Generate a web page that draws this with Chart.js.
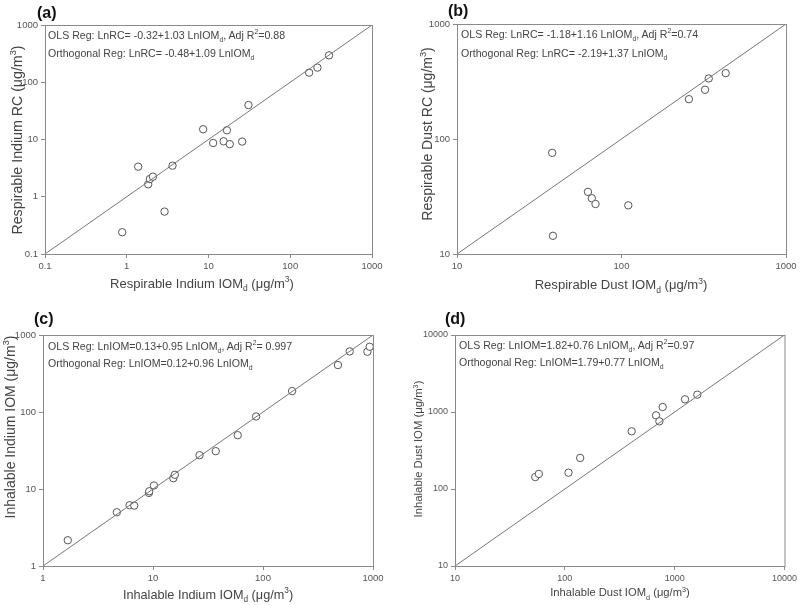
<!DOCTYPE html>
<html>
<head>
<meta charset="utf-8">
<script src="https://cdn.jsdelivr.net/npm/chart.js@4"></script>
<style>
  body { margin: 0; background: #fff; font-family: "Liberation Sans", Arial, sans-serif; }
  #wrap { position: relative; width: 800px; height: 605px; overflow: hidden; }
  canvas { position: absolute; }
  .lbl { position: absolute; color: #444; white-space: nowrap; line-height: 1; }
  .panel { font-weight: bold; font-size: 16px; color: #111; }
  .eq { font-size: 10.6px; color: #444; }
  .ytitle { transform: translate(-50%, -50%) rotate(-90deg); }
  .xtitle { transform: translate(-50%, -50%); }
  sub, sup { font-size: 65%; line-height: 0; }
</style>
</head>
<body>
<div id="wrap">
  <canvas id="ca" style="left:0;top:0" width="400" height="300"></canvas>
  <canvas id="cb" style="left:400px;top:0" width="400" height="300"></canvas>
  <canvas id="cc" style="left:0;top:300px" width="400" height="305"></canvas>
  <canvas id="cd" style="left:400px;top:300px" width="400" height="305"></canvas>

  <div class="lbl panel" style="left:37px;top:5px">(a)</div>
  <div class="lbl panel" style="left:448px;top:3px">(b)</div>
  <div class="lbl panel" style="left:34px;top:311px">(c)</div>
  <div class="lbl panel" style="left:445px;top:311px">(d)</div>

  <div class="lbl eq" style="left:48px;top:30px">OLS Reg: LnRC= -0.32+1.03 LnIOM<sub>d</sub>, Adj R<sup>2</sup>=0.88</div>
  <div class="lbl eq" style="left:48px;top:48px">Orthogonal Reg: LnRC= -0.48+1.09 LnIOM<sub>d</sub></div>
  <div class="lbl eq" style="left:461px;top:29px">OLS Reg: LnRC= -1.18+1.16 LnIOM<sub>d</sub>, Adj R<sup>2</sup>=0.74</div>
  <div class="lbl eq" style="left:461px;top:48px">Orthogonal Reg: LnRC= -2.19+1.37 LnIOM<sub>d</sub></div>
  <div class="lbl eq" style="left:48px;top:341px">OLS Reg: LnIOM=0.13+0.95 LnIOM<sub>d</sub>, Adj R<sup>2</sup>= 0.997</div>
  <div class="lbl eq" style="left:48px;top:358px">Orthogonal Reg: LnIOM=0.12+0.96 LnIOM<sub>d</sub></div>
  <div class="lbl eq" style="left:459px;top:340px">OLS Reg: LnIOM=1.82+0.76 LnIOM<sub>d</sub>, Adj R<sup>2</sup>=0.97</div>
  <div class="lbl eq" style="left:459px;top:357px">Orthogonal Reg: LnIOM=1.79+0.77 LnIOM<sub>d</sub></div>

  <div class="lbl ytitle" style="left:17px;top:140px;font-size:14.2px">Respirable Indium RC (μg/m<sup>3</sup>)</div>
  <div class="lbl xtitle" style="left:202px;top:283px;font-size:13px">Respirable Indium IOM<sub>d</sub> (μg/m<sup>3</sup>)</div>
  <div class="lbl ytitle" style="left:427px;top:134px;font-size:14px">Respirable Dust RC (μg/m<sup>3</sup>)</div>
  <div class="lbl xtitle" style="left:621px;top:285px;font-size:13.1px">Respirable Dust IOM<sub>d</sub> (μg/m<sup>3</sup>)</div>
  <div class="lbl ytitle" style="left:10px;top:427px;font-size:14px">Inhalable Indium IOM (μg/m<sup>3</sup>)</div>
  <div class="lbl xtitle" style="left:208px;top:595px;font-size:12.7px">Inhalable Indium IOM<sub>d</sub> (μg/m<sup>3</sup>)</div>
  <div class="lbl ytitle" style="left:419px;top:449px;font-size:11.3px">Inhalable Dust IOM (μg/m<sup>3</sup>)</div>
  <div class="lbl xtitle" style="left:620px;top:593px;font-size:11.2px">Inhalable Dust IOM<sub>d</sub> (μg/m<sup>3</sup>)</div>
</div>
<script>
// (a) respirable indium: IOMd vs RC
const aX = [0.88, 1.38, 1.83, 1.92, 2.09, 2.9, 3.63, 8.6, 11.4, 15.3, 16.8, 18.2, 25.8, 30.8, 170, 215, 298];
const aY = [0.24, 3.35, 1.65, 2.04, 2.24, 0.55, 3.49, 15.1, 8.7, 9.3, 14.5, 8.3, 9.2, 40, 147, 180, 295];
const aTicks = [0.1, 1, 10, 100, 1000];

// (b) respirable dust
const bX = [37.9, 38.3, 62.5, 66, 69.5, 110, 257, 322, 339, 430];
const bY = [75.8, 14.4, 34.7, 30.5, 27.2, 26.5, 222, 268, 336, 374];
const bTicks = [10, 100, 1000];

// (c) inhalable indium
const cX = [1.68, 4.69, 6.12, 6.75, 9.18, 9.24, 10.2, 15.3, 15.8, 26.5, 37.2, 58.9, 86.6, 184, 480, 614, 889, 933];
const cY = [2.16, 4.99, 6.15, 6.09, 8.9, 9.35, 11.1, 13.8, 15.3, 27.5, 31, 50, 87.5, 187, 407, 612, 606, 704];
const cTicks = [1, 10, 100, 1000];

// (d) inhalable dust
const dX = [53.8, 58, 108, 138, 406, 677, 726, 778, 1242, 1607];
const dY = [143, 157, 163, 253, 561, 905, 757, 1161, 1462, 1680];
const dTicks = [10, 100, 1000, 10000];

const frame = {
  id: 'frame',
  afterDraw(chart) {
    const a = chart.chartArea, ctx = chart.ctx;
    ctx.save();
    ctx.strokeStyle = '#8a8a8a';
    ctx.lineWidth = 1;
    ctx.strokeRect(a.left + 0.5, a.top + 0.5, a.right - a.left, a.bottom - a.top);
    ctx.restore();
  }
};

function axis(ticks, size, fontSize) {
  return {
    type: 'logarithmic',
    min: ticks[0],
    max: ticks[ticks.length - 1],
    afterBuildTicks: s => { s.ticks = ticks.map(v => ({ value: v })); },
    afterFit: s => { if (s.isHorizontal()) s.height = size; else s.width = size; },
    grid: { display: true, drawOnChartArea: false, tickLength: 4, color: '#8a8a8a' },
    border: { color: '#8a8a8a' },
    ticks: {
      color: '#555',
      font: { size: fontSize, family: 'Liberation Sans' },
      padding: 3,
      maxRotation: 0,
      autoSkip: false,
      callback: v => String(v)
    }
  };
}

function panel(id, xs, ys, ticks, box) {
  const pts = xs.map((x, i) => ({ x: x, y: ys[i] }));
  const lo = ticks[0], hi = ticks[ticks.length - 1];
  new Chart(document.getElementById(id), {
    type: 'scatter',
    data: {
      datasets: [
        {
          type: 'line',
          data: [{ x: lo, y: lo }, { x: hi, y: hi }],
          borderColor: '#777',
          borderWidth: 1,
          pointRadius: 0
        },
        {
          data: pts,
          pointRadius: 3.7,
          pointBorderWidth: 1,
          pointBackgroundColor: '#fff',
          pointBorderColor: '#555'
        }
      ]
    },
    options: {
      responsive: false,
      animation: false,
      layout: { padding: { top: box.top, right: box.right, left: 0, bottom: 0 } },
      plugins: { legend: { display: false }, tooltip: { enabled: false } },
      scales: {
        x: axis(ticks, box.xh, box.fs),
        y: axis(ticks, box.yw, box.fs)
      }
    },
    plugins: [frame]
  });
}

panel('ca', aX, aY, aTicks, { top: 25, right: 28, xh: 46, yw: 45, fs: 9.5 });
panel('cb', bX, bY, bTicks, { top: 24, right: 14, xh: 46, yw: 57, fs: 9.5 });
panel('cc', cX, cY, cTicks, { top: 35, right: 27, xh: 39, yw: 43, fs: 9.5 });
panel('cd', dX, dY, dTicks, { top: 35, right: 15, xh: 39, yw: 55, fs: 9 });
</script>
</body>
</html>
